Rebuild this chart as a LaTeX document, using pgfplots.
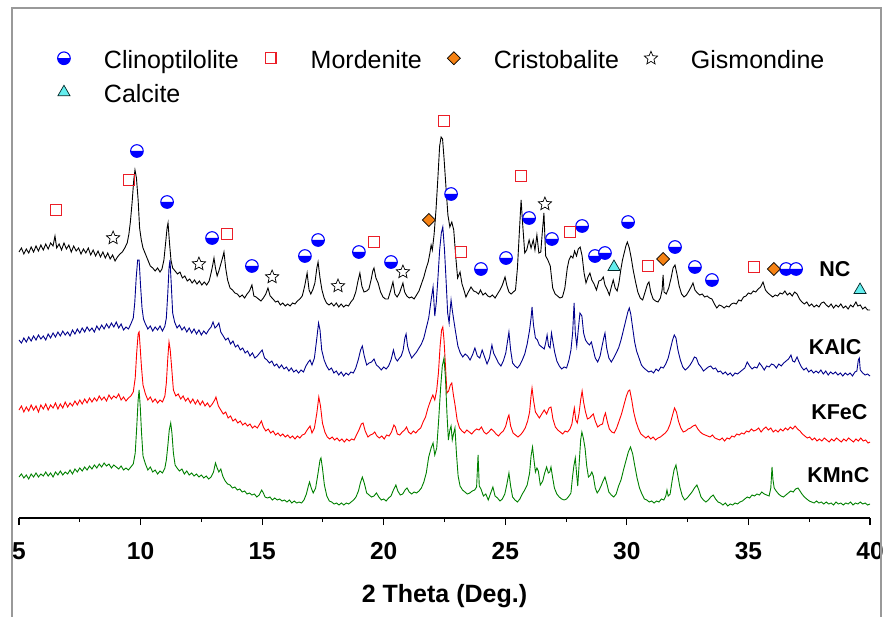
\documentclass[border=0pt]{standalone}
\usepackage{fontspec}
\setmainfont{Liberation Sans}
\usepackage{pgfplots}
\pgfplotsset{compat=1.18}
\definecolor{navyc}{RGB}{0,0,140}
\definecolor{redc}{RGB}{255,0,0}
\definecolor{greenc}{RGB}{0,128,0}
\definecolor{clinoc}{RGB}{0,0,255}
\definecolor{mordc}{RGB}{235,30,40}
\definecolor{orangec}{RGB}{245,130,20}
\definecolor{cyanc}{RGB}{100,238,238}
\pgfdeclareplotmark{ostar}{%
  \pgfpathmoveto{\pgfpointpolar{90}{\pgfplotmarksize}}%
  \pgfpathlineto{\pgfpointpolar{126}{0.45\pgfplotmarksize}}%
  \pgfpathlineto{\pgfpointpolar{162}{\pgfplotmarksize}}%
  \pgfpathlineto{\pgfpointpolar{198}{0.45\pgfplotmarksize}}%
  \pgfpathlineto{\pgfpointpolar{234}{\pgfplotmarksize}}%
  \pgfpathlineto{\pgfpointpolar{270}{0.45\pgfplotmarksize}}%
  \pgfpathlineto{\pgfpointpolar{306}{\pgfplotmarksize}}%
  \pgfpathlineto{\pgfpointpolar{342}{0.45\pgfplotmarksize}}%
  \pgfpathlineto{\pgfpointpolar{18}{\pgfplotmarksize}}%
  \pgfpathlineto{\pgfpointpolar{54}{0.45\pgfplotmarksize}}%
  \pgfpathclose
  \pgfusepathqfillstroke
}
\begin{document}
\begin{tikzpicture}
\begin{axis}[
  at={(0,0)}, anchor=south west,
  scale only axis, width=851bp, height=508bp,
  xmin=5, xmax=40, ymin=0, ymax=508,
  axis x line=bottom, axis y line=none,
  axis line style={-, line width=1.3bp, black},
  xtick={5,10,...,40}, minor x tick num=1,
  tick align=outside, major tick length=7bp, minor tick length=4bp,
  tick style={black, line width=1.1bp},
  /pgf/number format/assume math mode=true,
  xticklabel style={font=\fontsize{24.5bp}{29bp}\selectfont\bfseries, anchor=base, yshift=-34bp},
  xlabel={2 Theta (Deg.)},
  xlabel style={font=\fontsize{25bp}{30bp}\selectfont\bfseries, at={(axis description cs:0.5,0)}, anchor=base, yshift=-84bp},
  clip=false,
  legend columns=4,
  legend cell align=left,
  legend image code/.code={\draw[#1] plot coordinates {(0bp,3.5bp)}; \path[draw=none, fill=none] (-8bp,0bp) rectangle (8bp,0.1bp);},
  legend style={draw=none, fill=none, inner sep=0pt, outer sep=0pt,
    at={(axis cs:6.52,468)}, anchor=north west,
    font=\fontsize{25bp}{30bp}\selectfont,
    nodes={inner sep=0pt, text height=18.25bp, text depth=5.25bp},
    row sep=10.5bp,
    /tikz/every odd column/.append style={column sep=32bp},
    /tikz/every even column/.append style={column sep=24bp}},
]
% NC
\addplot[black, line width=0.9bp, forget plot] table {
5.0 266
5.1 270
5.2 264
5.3 269
5.4 265
5.5 271
5.6 266
5.7 272
5.8 267
5.9 273
6.0 268
6.1 274
6.2 269
6.3 275
6.4 272
6.48 282
6.55 270
6.65 274
6.75 268
6.85 275
6.95 269
7.05 273
7.15 266
7.25 272
7.35 267
7.45 270
7.55 264
7.65 269
7.75 265
7.85 270
7.95 263
8.05 268
8.15 262
8.25 267
8.35 261
8.45 266
8.55 260
8.65 265
8.75 259
8.85 263
8.95 257
9.05 261
9.15 264
9.25 266
9.35 270
9.45 275
9.52 284
9.58 296
9.65 315
9.72 338
9.77 348
9.83 340
9.9 318
9.96 290
10.03 278
10.1 270
10.2 264
10.3 258
10.4 252
10.5 250
10.6 247
10.7 250
10.8 246
10.88 249
10.96 258
11.03 275
11.09 290
11.13 295
11.19 275
11.25 258
11.32 250
11.42 247
11.52 244
11.62 246
11.72 240
11.82 242
11.92 237
12.02 239
12.12 235
12.22 238
12.32 234
12.42 237
12.52 233
12.62 236
12.72 233
12.82 237
12.9 245
12.96 252
13.02 260
13.08 250
13.15 242
13.22 247
13.3 254
13.37 260
13.43 266
13.5 250
13.58 238
13.68 230
13.78 228
13.88 225
13.98 224
14.08 221
14.18 223
14.28 220
14.38 224
14.48 227
14.58 233
14.66 222
14.75 221
14.85 219
14.95 217
15.05 220
15.15 224
15.24 230
15.33 222
15.45 219
15.55 216
15.65 217
15.75 213
15.85 215
15.95 212
16.05 214
16.15 212
16.25 215
16.35 214
16.45 217
16.55 219
16.65 222
16.75 232
16.85 245
16.93 228
17.0 224
17.08 228
17.17 235
17.25 250
17.3 256
17.38 240
17.46 228
17.55 220
17.65 215
17.75 213
17.85 215
17.95 212
18.05 215
18.15 211
18.25 214
18.35 211
18.45 213
18.55 212
18.65 216
18.75 219
18.85 226
18.95 238
19.02 245
19.1 232
19.19 226
19.3 227
19.39 229
19.48 238
19.55 247
19.6 250
19.68 240
19.77 235
19.87 226
19.97 221
20.07 219
20.18 219
20.28 227
20.38 236
20.46 224
20.55 221
20.65 225
20.72 230
20.79 235
20.86 226
20.95 222
21.05 220
21.15 221
21.25 219
21.35 223
21.45 227
21.55 234
21.65 241
21.75 250
21.83 256
21.9 265
21.95 273
22.0 268
22.07 283
22.15 308
22.23 341
22.3 372
22.36 381
22.42 379
22.48 360
22.56 331
22.64 303
22.72 291
22.8 296
22.88 288
22.96 262
23.04 240
23.14 246
23.22 234
23.3 228
23.38 221
23.48 226
23.59 231
23.7 227
23.8 226
23.9 224
23.98 228
24.08 223
24.18 225
24.28 222
24.37 221
24.47 223
24.58 220
24.68 224
24.78 228
24.88 233
24.99 241
25.07 232
25.15 226
25.24 224
25.33 226
25.42 228
25.5 250
25.57 282
25.65 318
25.72 292
25.8 265
25.88 268
25.98 278
26.06 270
26.15 278
26.22 268
26.3 283
26.38 265
26.46 266
26.52 285
26.59 305
26.66 262
26.75 258
26.85 252
26.95 230
27.05 224
27.15 222
27.25 220
27.35 221
27.45 230
27.55 250
27.62 258
27.7 262
27.78 260
27.85 267
27.93 262
28.0 269
28.08 271
28.16 262
28.24 245
28.32 235
28.4 241
28.48 245
28.56 238
28.65 234
28.75 228
28.85 237
28.95 238
29.03 241
29.1 233
29.2 228
29.28 223
29.36 231
29.44 238
29.52 230
29.6 227
29.68 236
29.75 248
29.82 258
29.9 266
29.96 272
30.02 276
30.1 270
30.18 260
30.26 248
30.35 237
30.45 226
30.55 220
30.65 218
30.75 226
30.85 234
30.91 236
30.98 226
31.08 219
31.18 217
31.28 216
31.38 220
31.45 228
31.49 243
31.53 226
31.62 224
31.72 230
31.82 240
31.9 250
31.98 253
32.06 244
32.15 232
32.25 224
32.35 221
32.45 223
32.55 227
32.64 231
32.72 235
32.8 228
32.9 225
33.0 223
33.1 224
33.2 221
33.3 222
33.4 220
33.5 219
33.6 214
33.7 210
33.8 213
33.9 212
34.0 210
34.1 212
34.2 211
34.3 214
34.4 215
34.5 214
34.6 218
34.7 217
34.8 221
34.9 222
35.0 225
35.1 224
35.2 227
35.3 226
35.4 229
35.5 231
35.6 236
35.7 228
35.8 225
35.9 223
36.0 221
36.1 223
36.2 222
36.3 225
36.4 224
36.5 227
36.6 223
36.7 225
36.8 222
36.9 226
37.0 224
37.1 219
37.2 216
37.3 214
37.4 216
37.5 212
37.6 214
37.7 211
37.8 213
37.9 211
38.0 215
38.1 216
38.2 213
38.3 211
38.4 214
38.5 210
38.6 213
38.7 211
38.8 214
38.9 210
39.0 212
39.1 209
39.2 213
39.3 211
39.42 216
39.5 212
39.6 213
39.7 209
39.8 211
39.9 208
40.0 208
};
% KAlC
\addplot[navyc, line width=0.9bp, forget plot] table {
5.0 178
5.1 175
5.2 180
5.3 176
5.4 181
5.5 177
5.6 182
5.7 178
5.8 183
5.9 179
6.0 182
6.1 178
6.2 184
6.3 180
6.4 185
6.5 181
6.6 186
6.7 182
6.8 187
6.9 183
7.0 186
7.1 182
7.2 188
7.3 184
7.4 189
7.5 185
7.6 190
7.7 186
7.8 191
7.9 187
8.0 190
8.1 186
8.2 192
8.3 188
8.4 193
8.5 189
8.6 194
8.7 190
8.8 195
8.9 191
9.0 196
9.1 190
9.2 194
9.3 188
9.4 191
9.5 189
9.6 194
9.7 200
9.76 215
9.82 240
9.88 258
9.94 258
10.0 232
10.06 210
10.12 199
10.2 194
10.3 189
10.4 192
10.5 187
10.6 191
10.7 188
10.8 192
10.9 187
11.0 192
11.06 200
11.12 225
11.17 250
11.21 258
11.26 235
11.32 205
11.4 196
11.5 190
11.6 193
11.7 188
11.8 191
11.9 186
12.0 190
12.1 185
12.2 189
12.3 184
12.4 188
12.5 183
12.6 187
12.7 184
12.8 188
12.9 191
12.98 196
13.06 190
13.14 192
13.22 195
13.3 186
13.4 182
13.5 178
13.6 180
13.7 174
13.8 177
13.9 171
14.0 173
14.1 168
14.2 170
14.3 165
14.4 167
14.5 162
14.6 165
14.7 160
14.8 162
14.9 165
15.0 168
15.1 160
15.2 158
15.3 155
15.4 157
15.5 152
15.6 154
15.7 150
15.8 153
15.9 149
16.0 151
16.1 147
16.2 150
16.3 146
16.4 148
16.5 145
16.6 148
16.7 146
16.8 152
16.9 156
16.97 158
17.05 153
17.15 160
17.25 180
17.32 195
17.38 188
17.45 168
17.55 158
17.65 152
17.75 148
17.85 150
17.95 145
18.05 147
18.15 143
18.25 146
18.35 142
18.45 145
18.55 143
18.65 146
18.75 145
18.85 150
18.95 158
19.05 168
19.12 172
19.2 162
19.3 153
19.4 155
19.5 156
19.6 159
19.7 153
19.8 151
19.9 148
20.0 151
20.1 149
20.2 152
20.3 158
20.4 168
20.48 160
20.56 157
20.65 160
20.72 162
20.8 168
20.87 180
20.92 184
20.98 172
21.05 166
21.15 160
21.25 163
21.35 166
21.45 170
21.55 174
21.65 180
21.75 190
21.85 200
21.95 218
22.03 231
22.1 202
22.16 215
22.22 236
22.3 268
22.37 285
22.43 291
22.5 268
22.56 240
22.63 205
22.69 195
22.74 210
22.77 218
22.82 208
22.88 198
22.95 187
23.05 172
23.15 165
23.25 161
23.35 164
23.45 162
23.55 158
23.65 163
23.75 170
23.85 162
23.95 160
24.05 168
24.15 161
24.25 154
24.35 160
24.45 173
24.52 165
24.62 160
24.72 155
24.82 152
24.92 157
25.02 165
25.1 178
25.15 186
25.22 168
25.3 155
25.4 152
25.5 150
25.6 153
25.7 158
25.8 164
25.9 174
26.0 188
26.06 200
26.1 211
26.16 193
26.24 180
26.32 178
26.4 173
26.5 171
26.6 169
26.66 175
26.72 183
26.78 172
26.84 170
26.9 185
26.96 176
27.03 166
27.12 157
27.22 152
27.32 149
27.42 151
27.52 150
27.62 158
27.7 168
27.77 185
27.83 215
27.88 185
27.94 172
28.0 188
28.07 205
28.15 202
28.22 185
28.3 178
28.38 175
28.46 173
28.54 176
28.62 168
28.7 160
28.8 156
28.9 162
28.98 172
29.05 180
29.1 185
29.17 170
29.26 160
29.36 156
29.46 160
29.56 165
29.66 170
29.76 178
29.86 188
29.96 198
30.04 206
30.1 210
30.16 204
30.24 190
30.32 176
30.4 167
30.5 160
30.6 153
30.7 150
30.8 148
30.9 146
31.0 147
31.1 145
31.2 149
31.3 147
31.4 151
31.5 150
31.6 154
31.7 160
31.8 170
31.88 178
31.95 183
32.02 180
32.1 168
32.2 158
32.3 151
32.4 148
32.5 150
32.6 153
32.7 157
32.78 161
32.86 160
32.95 154
33.05 151
33.15 147
33.25 149
33.35 151
33.45 152
33.55 149
33.65 150
33.75 146
33.85 147
33.95 144
34.05 146
34.15 143
34.25 145
34.35 142
34.45 145
34.55 144
34.65 146
34.75 148
34.85 150
34.95 156
35.05 152
35.15 149
35.25 151
35.35 150
35.45 155
35.55 152
35.65 148
35.75 152
35.85 151
35.95 154
36.05 153
36.15 150
36.25 154
36.35 152
36.45 155
36.55 157
36.65 159
36.75 163
36.82 157
36.9 156
37.0 161
37.08 156
37.18 151
37.28 148
37.38 150
37.48 146
37.58 148
37.68 145
37.78 147
37.88 145
37.98 148
38.08 144
38.18 147
38.28 143
38.38 146
38.48 144
38.58 146
38.68 143
38.78 145
38.88 142
38.98 145
39.08 143
39.18 145
39.28 142
39.38 146
39.46 147
39.52 158
39.56 160
39.6 148
39.7 145
39.8 143
39.9 144
40.0 142
};
% KFeC
\addplot[redc, line width=0.9bp, forget plot] table {
5.0 108
5.1 112
5.2 106
5.3 111
5.4 107
5.5 113
5.6 108
5.7 112
5.8 106
5.9 113
6.0 109
6.1 114
6.2 108
6.3 113
6.4 110
6.5 115
6.6 109
6.7 114
6.8 110
6.9 116
7.0 111
7.1 115
7.2 112
7.3 117
7.4 113
7.5 118
7.6 114
7.7 119
7.8 115
7.9 120
8.0 116
8.1 120
8.2 117
8.3 122
8.4 118
8.5 121
8.6 117
8.7 123
8.8 119
8.9 122
9.0 120
9.1 124
9.2 118
9.3 121
9.4 117
9.5 120
9.6 122
9.7 126
9.78 140
9.84 165
9.9 184
9.94 186
9.98 172
10.04 150
10.1 133
10.2 124
10.3 118
10.4 121
10.5 116
10.6 119
10.7 115
10.8 118
10.9 116
11.0 122
11.06 135
11.12 160
11.17 176
11.22 168
11.28 150
11.35 128
11.45 122
11.55 124
11.65 119
11.75 122
11.85 117
11.95 120
12.05 115
12.15 119
12.25 114
12.35 118
12.45 113
12.55 117
12.65 112
12.75 115
12.85 111
12.95 114
13.05 118
13.1 121
13.2 112
13.3 108
13.4 104
13.5 106
13.6 100
13.7 102
13.8 97
13.9 99
14.0 95
14.1 97
14.2 93
14.3 95
14.4 92
14.5 94
14.6 90
14.7 92
14.8 90
14.9 94
14.97 97
15.05 91
15.15 87
15.25 89
15.35 85
15.45 87
15.55 83
15.65 85
15.75 82
15.85 84
15.95 81
16.05 83
16.15 80
16.25 82
16.35 79
16.45 82
16.55 80
16.65 83
16.75 84
16.85 88
16.97 92
17.05 85
17.15 90
17.25 105
17.33 121
17.4 112
17.48 95
17.58 86
17.68 81
17.78 79
17.88 81
17.98 78
18.08 80
18.18 77
18.28 79
18.38 76
18.48 79
18.58 77
18.68 79
18.78 78
18.88 83
18.98 88
19.08 94
19.15 95
19.24 87
19.35 81
19.45 83
19.55 84
19.63 86
19.72 82
19.82 80
19.92 82
20.02 79
20.12 83
20.22 82
20.32 86
20.42 93
20.48 91
20.56 84
20.66 83
20.76 86
20.86 88
20.94 91
21.02 86
21.12 84
21.22 87
21.32 85
21.42 88
21.52 90
21.62 96
21.72 101
21.82 110
21.92 117
22.02 123
22.1 118
22.18 128
22.25 145
22.32 172
22.38 188
22.43 191
22.48 178
22.54 152
22.6 125
22.67 127
22.74 133
22.8 135
22.86 124
22.94 112
23.02 98
23.12 90
23.22 87
23.32 85
23.42 88
23.52 86
23.62 84
23.72 87
23.82 89
23.92 88
24.02 91
24.12 86
24.22 84
24.32 86
24.42 89
24.52 87
24.62 84
24.72 82
24.82 85
24.92 87
25.02 92
25.1 100
25.15 103
25.22 92
25.32 85
25.42 83
25.52 81
25.62 83
25.72 86
25.82 90
25.92 97
26.0 106
26.06 122
26.1 130
26.16 118
26.24 106
26.32 103
26.4 100
26.5 104
26.6 108
26.7 104
26.8 110
26.88 111
26.96 99
27.06 91
27.16 88
27.26 86
27.36 84
27.46 87
27.56 86
27.66 89
27.74 94
27.8 104
27.84 110
27.9 98
27.96 95
28.03 104
28.1 118
28.16 127
28.22 116
28.3 106
28.38 99
28.46 100
28.54 102
28.62 104
28.7 97
28.8 91
28.9 93
29.0 94
29.06 101
29.12 105
29.2 96
29.28 89
29.38 86
29.48 85
29.58 90
29.68 97
29.78 104
29.88 113
29.98 122
30.06 127
30.12 128
30.2 118
30.28 106
30.38 96
30.48 89
30.58 84
30.68 82
30.78 80
30.88 82
30.98 79
31.08 81
31.18 78
31.28 80
31.38 81
31.48 83
31.58 85
31.68 88
31.78 94
31.88 103
31.96 110
32.04 106
32.12 97
32.22 90
32.32 86
32.42 87
32.52 89
32.62 90
32.72 92
32.82 93
32.92 89
33.02 86
33.12 84
33.22 83
33.32 82
33.42 81
33.52 83
33.62 80
33.72 79
33.82 78
33.92 80
34.02 77
34.12 80
34.22 79
34.32 82
34.42 81
34.52 84
34.62 83
34.72 85
34.82 84
34.92 87
35.02 86
35.12 89
35.22 87
35.32 88
35.42 90
35.52 86
35.62 89
35.72 91
35.82 88
35.92 90
36.02 86
36.12 88
36.22 86
36.32 89
36.42 87
36.52 90
36.62 88
36.72 91
36.82 89
36.92 92
37.02 89
37.12 87
37.22 84
37.32 82
37.42 80
37.52 81
37.62 78
37.72 80
37.82 77
37.92 79
38.02 77
38.12 80
38.22 78
38.32 76
38.42 79
38.52 77
38.62 80
38.72 78
38.82 76
38.92 79
39.02 77
39.12 80
39.22 78
39.32 76
39.42 79
39.52 77
39.62 80
39.72 77
39.82 78
39.92 75
40.0 76
};
% KMnC
\addplot[greenc, line width=0.9bp, forget plot] table {
5.0 41
5.1 44
5.2 40
5.3 43
5.4 39
5.5 44
5.6 41
5.7 45
5.8 41
5.9 44
6.0 42
6.1 46
6.2 42
6.3 45
6.4 41
6.5 46
6.6 43
6.7 47
6.8 43
6.9 46
7.0 44
7.1 48
7.2 44
7.3 49
7.4 46
7.5 50
7.6 47
7.7 51
7.8 48
7.9 52
8.0 49
8.1 53
8.2 50
8.3 54
8.4 51
8.5 55
8.6 52
8.7 54
8.8 50
8.9 53
9.0 51
9.1 49
9.2 52
9.3 48
9.4 50
9.5 48
9.6 51
9.7 54
9.78 65
9.84 90
9.9 118
9.94 128
9.99 110
10.04 85
10.1 62
10.2 54
10.3 48
10.4 51
10.5 46
10.6 48
10.7 44
10.8 47
10.9 45
11.0 50
11.06 58
11.12 72
11.18 88
11.24 95
11.29 85
11.35 65
11.42 53
11.5 50
11.6 47
11.7 49
11.8 44
11.9 47
12.0 43
12.1 45
12.2 42
12.3 44
12.4 41
12.5 43
12.6 40
12.7 42
12.8 39
12.9 41
13.0 46
13.08 55
13.15 50
13.22 46
13.3 49
13.38 42
13.48 37
13.58 34
13.68 33
13.78 30
13.88 31
13.98 28
14.08 29
14.18 26
14.28 27
14.38 24
14.48 25
14.58 23
14.68 24
14.78 21
14.88 23
14.98 28
15.05 25
15.12 21
15.22 20
15.32 21
15.42 18
15.52 20
15.62 18
15.72 19
15.82 17
15.92 18
16.02 16
16.12 18
16.22 15
16.32 17
16.42 15
16.52 16
16.62 15
16.72 18
16.82 24
16.9 32
16.95 36
17.02 30
17.1 25
17.2 30
17.3 45
17.38 58
17.42 60
17.48 50
17.56 33
17.66 22
17.76 17
17.86 16
17.96 14
18.06 15
18.16 13
18.26 15
18.36 13
18.46 15
18.56 14
18.66 16
18.76 18
18.86 21
18.96 27
19.04 35
19.12 41
19.2 35
19.3 25
19.4 23
19.5 21
19.6 22
19.7 25
19.8 21
19.9 18
20.0 19
20.1 17
20.2 20
20.3 22
20.4 28
20.5 33
20.58 27
20.68 23
20.78 24
20.88 28
20.96 30
21.05 26
21.15 24
21.25 26
21.35 25
21.45 27
21.55 30
21.65 36
21.75 45
21.85 61
21.95 70
22.03 75
22.1 63
22.18 70
22.26 98
22.34 130
22.41 152
22.48 160
22.54 140
22.6 105
22.66 78
22.72 88
22.77 92
22.82 78
22.87 84
22.93 90
22.99 65
23.06 42
23.14 32
23.24 28
23.34 26
23.44 24
23.54 25
23.64 27
23.74 28
23.82 31
23.88 63
23.93 32
24.0 29
24.1 22
24.2 24
24.3 18
24.4 25
24.49 31
24.58 22
24.68 20
24.78 17
24.88 19
24.98 24
25.06 33
25.15 45
25.22 32
25.3 21
25.4 18
25.5 16
25.6 19
25.7 24
25.8 28
25.9 33
26.0 45
26.06 62
26.12 71
26.18 58
26.24 46
26.3 50
26.36 47
26.44 33
26.54 37
26.62 45
26.7 51
26.77 45
26.83 46
26.88 51
26.95 40
27.02 30
27.12 24
27.22 21
27.32 19
27.42 18
27.52 19
27.62 22
27.7 25
27.76 40
27.82 52
27.88 60
27.93 45
27.98 32
28.04 55
28.1 78
28.15 86
28.21 80
28.28 70
28.35 52
28.42 41
28.5 43
28.56 46
28.62 42
28.7 30
28.78 25
28.86 28
28.94 32
29.02 37
29.1 41
29.18 34
29.26 26
29.36 23
29.46 21
29.56 24
29.66 32
29.76 38
29.86 48
29.96 57
30.06 66
30.15 71
30.24 64
30.32 53
30.42 40
30.52 30
30.62 24
30.72 19
30.82 18
30.92 16
31.02 17
31.12 15
31.22 17
31.32 16
31.42 19
31.52 18
31.6 22
31.65 28
31.7 22
31.78 24
31.86 37
31.94 48
32.02 53
32.1 42
32.18 31
32.28 22
32.38 18
32.48 20
32.58 23
32.68 26
32.78 30
32.88 33
32.96 28
33.05 21
33.15 18
33.25 16
33.35 18
33.45 21
33.55 23
33.65 19
33.75 16
33.85 15
33.95 13
34.05 15
34.15 12
34.25 14
34.35 13
34.45 15
34.55 14
34.65 16
34.75 17
34.85 19
34.95 21
35.05 20
35.15 23
35.25 22
35.35 24
35.45 23
35.55 26
35.65 24
35.75 23
35.85 22
35.92 30
35.97 51
36.01 38
36.06 30
36.14 27
36.24 24
36.34 22
36.44 21
36.54 23
36.64 25
36.74 27
36.84 26
36.94 29
37.04 30
37.12 27
37.2 24
37.3 21
37.4 19
37.5 17
37.6 16
37.7 15
37.8 17
37.9 15
38.0 16
38.1 14
38.2 16
38.3 14
38.4 15
38.5 13
38.6 16
38.7 14
38.8 15
38.9 13
39.0 15
39.1 14
39.2 16
39.3 13
39.4 15
39.5 14
39.6 16
39.7 14
39.8 15
39.9 13
40.0 14
};
% phase markers
\addplot[only marks, mark=halfcircle*, mark size=6.3bp,
  mark options={draw=clinoc, fill=white, mark color=clinoc, line width=1.1bp}]
  coordinates {(9.85,367) (11.09,316) (12.94,280) (14.58,252) (16.76,262) (17.30,278)
  (18.98,266) (20.30,256) (22.77,324) (24.00,249) (25.03,260) (25.98,300) (26.92,279)
  (28.16,292) (28.69,262) (29.10,265) (30.05,296) (31.98,271) (32.80,251) (33.50,238)
  (36.55,249) (36.96,249)};
\addlegendentry{Clinoptilolite}
\addplot[only marks, mark=square, mark size=5.3bp,
  mark options={draw=mordc, fill=white, line width=1.1bp}]
  coordinates {(6.52,308) (9.52,338) (13.55,284) (19.60,276) (22.48,397) (23.18,266)
  (25.65,342) (27.66,286) (30.87,252) (35.23,251)};
\addlegendentry{Mordenite}
\addplot[only marks, mark=square*, mark size=4.6bp,
  mark options={rotate=45, draw=black, fill=orangec, line width=0.7bp}]
  coordinates {(21.86,298) (31.49,259) (36.05,249)};
\addlegendentry{Cristobalite}
\addplot[only marks, mark=ostar, mark size=7bp,
  mark options={draw=black, fill=white, line width=0.7bp}]
  coordinates {(8.87,280) (12.40,254) (15.41,241) (18.12,232) (20.79,246) (26.63,314)};
\addlegendentry{Gismondine}
\addplot[only marks, mark=triangle*, mark size=7bp,
  mark options={draw=black!70!teal, fill=cyanc, line width=0.7bp}]
  coordinates {(29.47,251) (39.59,228)};
\addlegendentry{Calcite}
% sample labels
\node[anchor=base east, font=\fontsize{21.5bp}{26bp}\selectfont\bfseries] at (axis cs:39.34,241) {NC};
\node[anchor=base east, font=\fontsize{21.5bp}{26bp}\selectfont\bfseries] at (axis cs:39.79,163) {KAlC};
\node[anchor=base east, font=\fontsize{21.5bp}{26bp}\selectfont\bfseries] at (axis cs:40.04,98) {KFeC};
\node[anchor=base east, font=\fontsize{21.5bp}{26bp}\selectfont\bfseries] at (axis cs:40.12,36) {KMnC};
% frame
\draw[black!40, line width=1.2bp] (axis cs:4.712,-102) rectangle (axis cs:40.453,510);
\end{axis}
\pgfresetboundingbox
\useasboundingbox (-19bp,-99bp) rectangle (864bp,518bp);
\end{tikzpicture}
\end{document}
